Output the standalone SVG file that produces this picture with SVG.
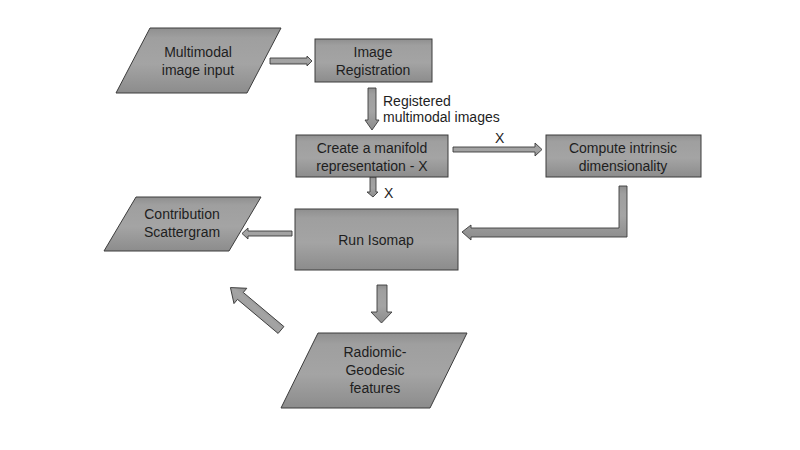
<svg xmlns="http://www.w3.org/2000/svg" width="800" height="450" viewBox="0 0 800 450">
<defs>
<linearGradient id="g" x1="0" y1="0" x2="0" y2="1">
<stop offset="0" stop-color="#8f8f8f"/>
<stop offset="0.15" stop-color="#9f9f9f"/>
<stop offset="0.55" stop-color="#a4a4a4"/>
<stop offset="1" stop-color="#8c8c8c"/>
</linearGradient>
<style>
.s{fill:url(#g);stroke:#3c3c3c;stroke-width:1}
.a{fill:url(#g);stroke:#3c3c3c;stroke-width:0.9}
text{font-family:"Liberation Sans",Arial,sans-serif;font-size:14px;fill:#1e1e1e}
.c{text-anchor:middle}
</style>
</defs>
<rect width="800" height="450" fill="#ffffff"/>
<g id="connectors">
<polygon class="a" points="270,58 307,58 307,56 312,61 307,66 307,64 270,64"/>
<polygon class="a" points="368,88 376,88 376,120 379,120 372,130 365,120 368,120"/>
<polygon class="a" points="370,177 376,177 376,192 378,192 373,197 367,192 370,192"/>
<polygon class="a" points="453,147 535,147 535,143 542,149.5 535,156 535,152 453,152"/>
<polygon class="a" points="619,186 627,186 627,237 471,237 471,240 462,232 471,225 471,228 619,228"/>
<polygon class="a" points="292,231 248,231 248,228 242,233.5 248,239 248,236 292,236"/>
<polygon class="a" points="377,285 387,285 387,312 392,312 381.5,323 371,312 377,312"/>
<polygon class="a" transform="translate(281,330) rotate(220)" points="0,-4.5 53,-4.5 53,-10 66,0 53,10 53,4.5 0,4.5"/>
<text x="383" y="106">Registered</text>
<text x="383" y="122">multimodal images</text>
<text x="384" y="198">X</text>
<text x="495" y="143">X</text>
</g>
<g id="n_input">
<polygon class="s" points="150,28 281,28 247,93 116,93"/>
<text class="c" x="198" y="57">Multimodal</text>
<text class="c" x="198" y="75">image input</text>
</g>
<g id="n_registration">
<rect class="s" x="315" y="39" width="117" height="43"/>
<text class="c" x="373" y="57">Image</text>
<text class="c" x="373" y="75">Registration</text>
</g>
<g id="n_manifold">
<rect class="s" x="296" y="135" width="152" height="42"/>
<text class="c" x="372" y="153">Create a manifold</text>
<text class="c" x="372" y="171">representation - X</text>
</g>
<g id="n_dimensionality">
<rect class="s" x="546" y="135" width="155" height="42"/>
<text class="c" x="623" y="153">Compute intrinsic</text>
<text class="c" x="623" y="171">dimensionality</text>
</g>
<g id="n_isomap">
<rect class="s" x="295" y="209" width="163" height="61"/>
<text class="c" x="376" y="245">Run Isomap</text>
</g>
<g id="n_scattergram">
<polygon class="s" points="136,197 261,197 229,251 104,251"/>
<text class="c" x="182" y="219">Contribution</text>
<text class="c" x="182" y="237">Scattergram</text>
</g>
<g id="n_features">
<polygon class="s" points="318,333 467,333 430,408 281,408"/>
<text class="c" x="375" y="357">Radiomic-</text>
<text class="c" x="375" y="375">Geodesic</text>
<text class="c" x="375" y="393">features</text>
</g>
</svg>
